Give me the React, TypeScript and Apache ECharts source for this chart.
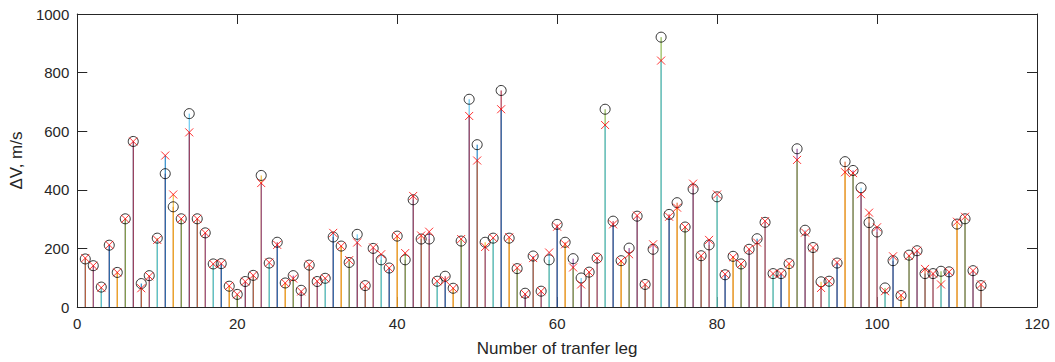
import React, { useEffect, useRef } from "react";
import * as echarts from "echarts";

const circleValues = [
  164, 141, 68, 211, 118, 301, 565, 80, 107, 235,
  455, 342, 301, 660, 301, 253, 147, 148, 71, 43,
  87, 108, 449, 150, 221, 82, 107, 57, 143, 87,
  98, 239, 208, 152, 248, 73, 200, 161, 133, 242,
  161, 366, 232, 232, 88, 105, 64, 225, 709, 554,
  221, 235, 739, 235, 131, 47, 174, 54, 161, 282,
  221, 165, 99, 119, 167, 675, 293, 158, 201, 310,
  77, 197, 921, 316, 356, 273, 403, 175, 212, 376,
  110, 173, 147, 197, 233, 289, 114, 114, 148, 540,
  262, 203, 86, 88, 150, 496, 466, 407, 288, 256,
  65, 158, 39, 177, 192, 114, 114, 122, 120, 283,
  301, 124, 73,
];

const crossValues = [
  167, 141, 66, 212, 118, 301, 565, 64, 105, 229,
  517, 384, 301, 596, 301, 253, 147, 148, 72, 43,
  87, 108, 423, 152, 212, 82, 97, 53, 145, 88,
  98, 253, 208, 160, 220, 73, 203, 180, 133, 242,
  184, 379, 244, 257, 88, 91, 64, 232, 652, 500,
  205, 236, 675, 238, 134, 44, 167, 54, 186, 274,
  214, 135, 77, 119, 167, 621, 282, 157, 180, 312,
  77, 214, 841, 308, 339, 273, 421, 175, 229, 384,
  112, 170, 147, 197, 220, 293, 114, 114, 148, 502,
  254, 203, 65, 88, 152, 460, 457, 385, 322, 272,
  54, 173, 40, 175, 192, 130, 114, 77, 120, 291,
  308, 124, 77,
];

const legs = circleValues.map((_, i) => i + 1);

const palette = ["#0072BD", "#D95319", "#EDB120", "#7E2F8E", "#77AC30", "#4DBEEE", "#A2142F"];

const xTicks = [0, 20, 40, 60, 80, 100, 120];
const yTicks = [0, 200, 400, 600, 800, 1000];

const FONT = "'Liberation Sans', Arial, Helvetica, sans-serif";
const AXIS = "#262626";

function stemSeries(values: number[], offset: number) {
  return {
    type: "custom",
    xAxisIndex: 0,
    yAxisIndex: 0,
    data: legs.map((k, i) => [k, values[i]]),
    encode: { x: 0, y: 1 },
    silent: true,
    renderItem: (params: any, api: any) => {
      const k = api.value(0);
      const v = api.value(1);
      const p0 = api.coord([k, 0]);
      const p1 = api.coord([k, v]);
      const color = palette[(2 * (k - 1) + offset) % 7];
      return {
        type: "line",
        shape: { x1: p0[0], y1: p0[1], x2: p1[0], y2: p1[1] },
        style: { stroke: color, lineWidth: 1 },
      };
    },
    z: 2 + offset,
  };
}

export default function App() {
  const ref = useRef<HTMLDivElement>(null);
  useEffect(() => {
    if (!ref.current) return;
    const chart = echarts.init(ref.current, undefined, { renderer: "svg" });
    const axisCommon = {
      axisLine: { show: true, onZero: false, lineStyle: { color: AXIS, width: 1 } },
      axisTick: { show: true, inside: true, length: 10, lineStyle: { color: AXIS, width: 1 } },
      splitLine: { show: false },
    };
    chart.setOption({
      animation: false,
      backgroundColor: "#ffffff",
      textStyle: { fontFamily: FONT },
      grid: { left: 77, right: 18, top: 14, bottom: 53, containLabel: false },
      xAxis: [
        {
          type: "value",
          min: xTicks[0],
          max: xTicks[xTicks.length - 1],
          interval: 20,
          position: "bottom",
          ...axisCommon,
          axisLabel: { color: AXIS, fontSize: 15, fontFamily: FONT, margin: 9, formatter: (v: number) => String(v) },
          name: "Number of tranfer leg",
          nameLocation: "middle",
          nameGap: 33,
          nameTextStyle: { color: AXIS, fontSize: 17, fontFamily: FONT },
        },
        {
          type: "value",
          min: xTicks[0],
          max: xTicks[xTicks.length - 1],
          interval: 20,
          position: "top",
          ...axisCommon,
          axisLabel: { show: false },
        },
      ],
      yAxis: [
        {
          type: "value",
          min: yTicks[0],
          max: yTicks[yTicks.length - 1],
          interval: 200,
          position: "left",
          ...axisCommon,
          axisLabel: { color: AXIS, fontSize: 15, fontFamily: FONT, margin: 8, formatter: (v: number) => String(v) },
          name: "\u0394V, m/s",
          nameLocation: "middle",
          nameGap: 38,
          nameRotate: 90,
          nameTextStyle: { color: AXIS, fontSize: 17, fontFamily: FONT },
        },
        {
          type: "value",
          min: yTicks[0],
          max: yTicks[yTicks.length - 1],
          interval: 200,
          position: "right",
          ...axisCommon,
          axisLabel: { show: false },
        },
      ],
      series: [
        stemSeries(circleValues, 0),
        stemSeries(crossValues, 1),
        {
          type: "scatter",
          xAxisIndex: 0,
          yAxisIndex: 0,
          data: legs.map((k, i) => [k, circleValues[i]]),
          symbol: "circle",
          symbolSize: 10,
          itemStyle: { color: "rgba(0,0,0,0)", borderColor: "#000000", borderWidth: 1 },
          silent: true,
          z: 5,
        },
        {
          type: "scatter",
          xAxisIndex: 0,
          yAxisIndex: 0,
          data: legs.map((k, i) => [k, crossValues[i]]),
          symbol: "path://M0,0L10,10M10,0L0,10",
          symbolSize: 8,
          itemStyle: { color: "rgba(0,0,0,0)", borderColor: "#FF0000", borderWidth: 1 },
          silent: true,
          z: 6,
        },
      ],
    });
    return () => chart.dispose();
  }, []);
  return (
    <div
      ref={ref}
      style={{ position: "absolute", left: 0, top: 0, width: 1055, height: 362, background: "#fff" }}
    />
  );
}
